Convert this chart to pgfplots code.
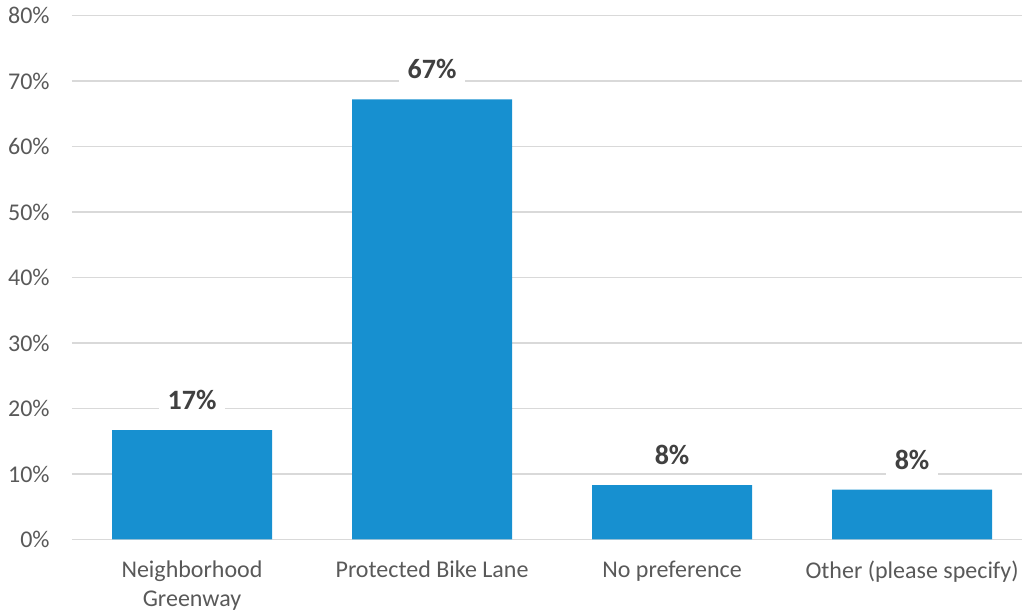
\documentclass[border=0pt]{standalone}
\usepackage{pgfplots}
\pgfplotsset{compat=1.18}
\usepackage{fontspec}
\setmainfont{Carlito}
\definecolor{barblue}{HTML}{1790D0}
\definecolor{gridgray}{HTML}{D9D9D9}
\definecolor{tickgray}{HTML}{595959}
\definecolor{labelgray}{HTML}{404040}
\begin{document}
\begin{tikzpicture}
\begin{axis}[
  name=ax,
  scale only axis,
  width=475pt, height=262pt,
  xmin=-0.5, xmax=3.458,
  ymin=0, ymax=80,
  axis line style={draw=none},
  ymajorgrids,
  grid style={color=gridgray, line width=0.75pt},
  major tick length=0pt,
  tick style={draw=none},
  ytick={0,10,...,80},
  yticklabel={\pgfmathprintnumber{\tick}\%},
  xtick={0,1,2,3},
  xticklabels={{Neighborhood\\Greenway},{Protected Bike Lane},{No preference},{Other (please specify)}},
  /pgf/number format/assume math mode=true,
  yticklabel style={font=\fontsize{12}{14.6}\selectfont, text=tickgray, anchor=east, inner sep=0pt, xshift=-11pt},
  xticklabel style={font=\fontsize{12}{14.6}\selectfont, text=tickgray, align=center, anchor=north, inner sep=0pt, yshift=-10.5pt},
  ybar,
  bar width=80pt,
  nodes near coords={\pgfmathprintnumber[fixed,precision=0]{\pgfplotspointmeta}\%},
  nodes near coords style={anchor=south, fill=white, inner xsep=4.5pt, inner ysep=3pt, yshift=7pt, font=\fontsize{14}{16}\selectfont\bfseries, text=labelgray},
  clip=false,
]
\addplot[fill=barblue, draw=none] coordinates {(0,16.7) (1,67.2) (2,8.3) (3,7.6)};
\end{axis}
\pgfresetboundingbox
\path[use as bounding box] (ax.south west) ++(-36pt,-37.25pt) rectangle ++(512pt,307pt);
\end{tikzpicture}
\end{document}
